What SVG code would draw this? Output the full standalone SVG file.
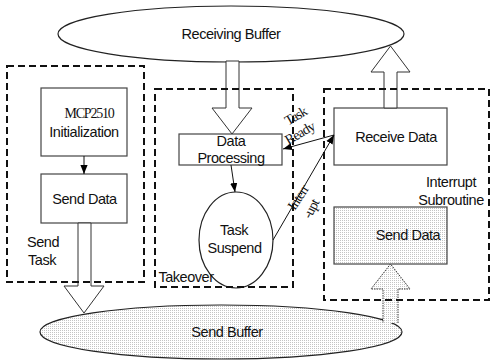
<svg xmlns="http://www.w3.org/2000/svg" width="493" height="360" viewBox="0 0 493 360">
<defs>
<pattern id="dots" width="2" height="2" patternUnits="userSpaceOnUse">
<rect width="2" height="2" fill="#ffffff"/>
<rect width="1" height="1" fill="#c4c4c4"/>
</pattern>
<marker id="ah" viewBox="0 0 10 10" refX="10" refY="5" markerWidth="9" markerHeight="9" markerUnits="userSpaceOnUse" orient="auto">
<path d="M0,1 L10,5 L0,9 Z" fill="#000"/>
</marker>
<style>
.t{font-family:"Liberation Sans",Arial,sans-serif;font-size:14.5px;fill:#111;text-anchor:middle;letter-spacing:-0.45px}
.s{font-family:"Liberation Serif","Times New Roman",serif;font-size:14px;fill:#111;text-anchor:middle;letter-spacing:-0.8px}
.box{fill:#fff;stroke:#444;stroke-width:1.2}
.dash{fill:none;stroke:#111;stroke-width:2;stroke-dasharray:7,4}
.ha{fill:#fff;stroke:#333;stroke-width:1}
.ln{stroke:#111;stroke-width:1;fill:none}
</style>
</defs>

<g id="receiving-buffer">
<ellipse cx="231" cy="34" rx="173" ry="28" fill="#fff" stroke="#222" stroke-width="1.2"/>
<text class="t" x="231" y="39">Receiving Buffer</text>
</g>

<g id="send-buffer">
<ellipse cx="221" cy="332" rx="181" ry="27" fill="url(#dots)" stroke="#222" stroke-width="1.2"/>
<text class="t" x="227" y="337">Send Buffer</text>
</g>

<g id="mcp-init">
<rect class="box" x="41" y="88" width="86" height="68"/>
<text class="s" x="89" y="118" style="letter-spacing:-1.2px">MCP2510</text>
<text class="t" x="84" y="137">Initialization</text>
</g>

<g id="send-data-left">
<rect class="box" x="41" y="174" width="86" height="49"/>
<text class="t" x="84.5" y="204">Send Data</text>
</g>

<g id="data-processing">
<rect class="box" x="179" y="134" width="103" height="31"/>
<text class="t" x="231" y="146">Data</text>
<text class="t" x="231" y="163">Processing</text>
</g>

<g id="task-suspend">
<ellipse cx="236" cy="240" rx="37" ry="48" fill="#fff" stroke="#222" stroke-width="1.2"/>
<text class="t" x="234" y="235">Task</text>
<text class="t" x="234.5" y="253">Suspend</text>
</g>

<g id="receive-data">
<rect class="box" x="334" y="108" width="113" height="57"/>
<text class="t" x="396" y="142">Receive Data</text>
</g>

<g id="send-data-right">
<rect x="334" y="207" width="113" height="57" fill="url(#dots)" stroke="#444" stroke-width="1.2"/>
<text class="t" x="408" y="240">Send Data</text>
</g>

<g id="connectors">
<polygon class="ha" points="226,61 239,61 239,108 252,108 232,134 212,108 226,108"/>
<polygon class="ha" points="78,223 91,223 91,286 104,286 84,313 64,286 78,286"/>
<polygon class="ha" points="384,108 397,108 397,72 410,72 390.5,46 371,72 384,72"/>
<polygon points="383,323 398,323 398,289 410,289 390.5,264 371,289 383,289" fill="url(#dots)"/>
<polyline points="398,323 398,289 410,289 390.5,264 371,289 383,289 383,323" fill="none" stroke="#333" stroke-width="1" stroke-dasharray="1.5,1"/>
<line class="ln" x1="84" y1="156" x2="84" y2="174" marker-end="url(#ah)"/>
<line class="ln" x1="231" y1="165" x2="235" y2="192" marker-end="url(#ah)"/>
<line class="ln" x1="334" y1="135" x2="283" y2="149" marker-end="url(#ah)"/>
<line class="ln" x1="273" y1="240" x2="334" y2="135" marker-end="url(#ah)"/>
<text class="s" transform="translate(298,120) rotate(-30)">Task</text>
<text class="s" transform="translate(302,137) rotate(-30)">Ready</text>
<text class="s" transform="translate(302,200) rotate(-57)">Interr</text>
<text class="s" transform="translate(315,211) rotate(-62)">-upt</text>
</g>

<g id="send-task">
<rect class="dash" x="7" y="66" width="137" height="216"/>
<text class="t" x="43" y="247">Send</text>
<text class="t" x="42" y="265">Task</text>
</g>

<g id="takeover">
<rect class="dash" x="155" y="89" width="138" height="198"/>
<text class="t" x="186" y="282">Takeover</text>
</g>

<g id="interrupt-subroutine">
<rect class="dash" x="324" y="89" width="165" height="211"/>
<text class="t" x="451" y="187">Interrupt</text>
<text class="t" x="451" y="205">Subroutine</text>
</g>
</svg>
